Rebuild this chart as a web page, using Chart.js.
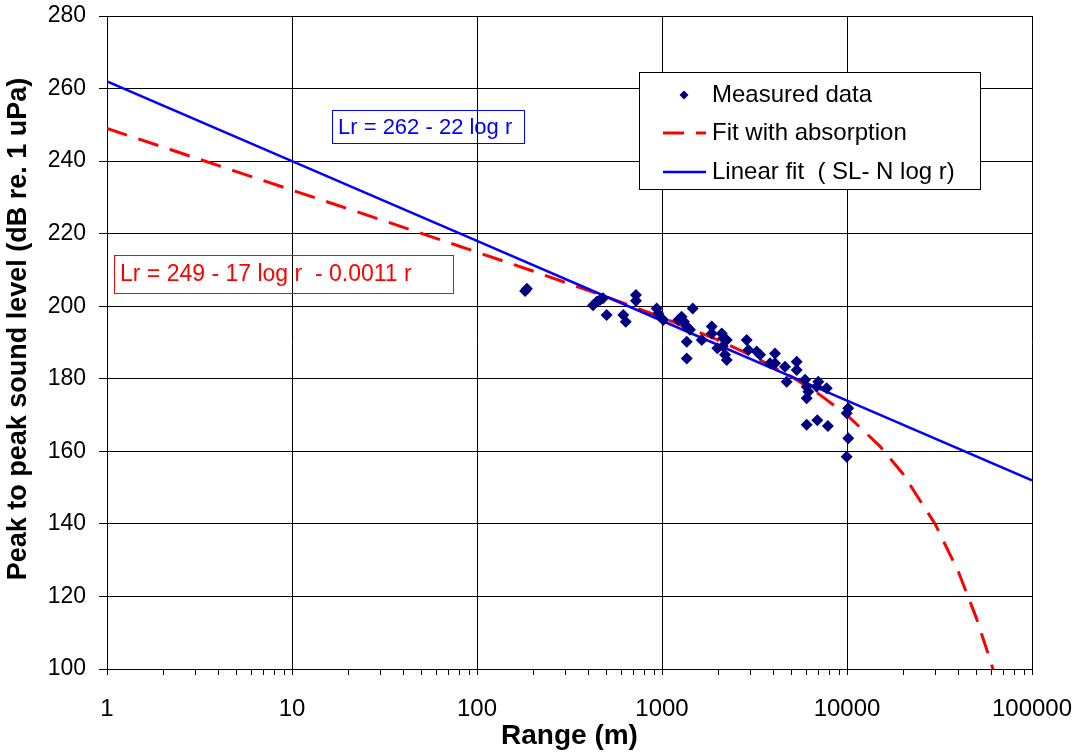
<!DOCTYPE html>
<html>
<head>
<meta charset="utf-8">
<script src="https://cdn.jsdelivr.net/npm/chart.js@4/dist/chart.umd.min.js"></script>
<style>
  html, body { margin: 0; padding: 0; background: #fff; }
  #wrap { width: 1076px; height: 753px; position: relative; }
</style>
</head>
<body>
<div id="wrap"><canvas id="c" width="1076" height="753"></canvas></div>
<script>
// Measured peak-to-peak levels versus range
const measuredRange = [182, 186, 424, 445, 462, 480, 502, 618, 637, 723, 723, 936, 955, 1016,
  1225, 1277, 1315, 1361, 1417, 1361, 1361, 1466, 1640, 1857, 1857, 1991, 2103, 2144, 2239,
  2191, 2239, 2130, 2870, 2930, 3250, 3388, 4083, 3837, 4083, 4624, 5348, 5348, 4722, 5932,
  6056, 6180, 6056, 6998, 6857, 7768, 6056, 6913, 7880, 10160, 9960, 10160, 9960];
const measuredLevel = [204.2, 204.8, 200.3, 201.3, 201.7, 202.2, 197.6, 197.6, 195.7, 203.1, 201.5, 199.4, 198.0, 196.2,
  196.2, 197.1, 195.7, 194.4, 193.5, 190.2, 185.6, 199.4, 190.7, 194.4, 192.5, 188.4, 192.5, 191.2, 190.7,
  186.6, 185.2, 189.0, 190.7, 187.9, 187.5, 186.6, 187.0, 184.3, 184.3, 183.3, 184.7, 182.4, 179.2, 179.7,
  177.8, 176.4, 174.6, 179.2, 177.8, 177.4, 167.3, 168.6, 167.0, 171.9, 170.5, 163.6, 158.5];

// Fit with absorption: Lr = 249 - 17 log r - 0.0011 r
const absorptionRange = [1, 2, 5, 10, 20, 50, 100, 200, 500, 1000, 2000, 3000, 5000, 7000,
  10000, 15000, 20000, 30000, 40000, 50000, 60000, 65000];
const absorptionLevel = [249.0, 243.9, 237.1, 232.0, 226.9, 220.1, 214.9, 209.7, 202.6, 196.9, 190.7, 186.6, 180.6, 175.9,
  170.0, 161.5, 153.9, 139.9, 126.8, 114.1, 101.8, 95.7];

// Linear fit: Lr = 262 - 22 log r
const linearRange = [1, 10, 100, 1000, 10000, 100000];
const linearLevel = [262, 240, 218, 196, 174, 152];

// Axis ticks
const xTickValues = [1, 10, 100, 1000, 10000, 100000];
const xTickLabels = ['1', '10', '100', '1000', '10000', '100000'];
const yTickValues = [100, 120, 140, 160, 180, 200, 220, 240, 260, 280];

const seriesNames = ['Measured data', 'Fit with absorption', 'Linear fit  ( SL- N log r)'];
const fitLabels = ['Lr = 262 - 22 log r', 'Lr = 249 - 17 log r  - 0.0011 r'];
const yTitle = 'Peak to peak sound level (dB re. 1 uPa)';

const FONT = '"Liberation Sans", Arial, sans-serif';
const NAVY = '#000080';
const RED = '#ff0000';
const BLUE = '#0000ff';
const DASH = [21, 12];

const pairs = (xs, ys) => xs.map((x, i) => ({ x, y: ys[i] }));

// Minor tick marks under the log axis (2..9 in each decade)
const minorTicks = {
  id: 'minorTicks',
  afterDraw(chart) {
    const xs = chart.scales.x, ca = chart.chartArea, ctx = chart.ctx;
    ctx.save();
    ctx.strokeStyle = '#000';
    ctx.lineWidth = 1;
    ctx.beginPath();
    for (let d = 1; d < 100000; d *= 10) {
      for (let k = 2; k <= 9; k++) {
        const px = Math.round(xs.getPixelForValue(k * d)) + 0.5;
        ctx.moveTo(px, ca.bottom);
        ctx.lineTo(px, ca.bottom + 6);
      }
    }
    ctx.stroke();
    ctx.restore();
  }
};

// Vertical axis title, equation boxes and legend box
const overlays = {
  id: 'overlays',
  afterDraw(chart) {
    const ctx = chart.ctx, ca = chart.chartArea;
    ctx.save();

    // y-axis title
    ctx.save();
    ctx.translate(19, 329);
    ctx.rotate(-Math.PI / 2);
    ctx.font = 'bold 27px ' + FONT;
    ctx.fillStyle = '#000';
    ctx.textAlign = 'center';
    ctx.textBaseline = 'middle';
    ctx.fillText(yTitle, 0, 0);
    ctx.restore();

    ctx.textBaseline = 'middle';
    ctx.textAlign = 'left';

    // linear-fit equation
    ctx.font = '22px ' + FONT;
    ctx.strokeStyle = BLUE; ctx.lineWidth = 1;
    ctx.strokeRect(ca.left + 225.5, ca.top + 94.5, 192, 33);
    ctx.fillStyle = BLUE;
    ctx.fillText(fitLabels[0], ca.left + 231, ca.top + 112);

    // absorption-fit equation
    ctx.font = '23px ' + FONT;
    ctx.strokeStyle = RED;
    ctx.strokeRect(ca.left + 7.5, ca.top + 239.5, 339, 38);
    ctx.fillStyle = RED;
    ctx.fillText(fitLabels[1], ca.left + 13, ca.top + 259);

    // legend
    const lx = 639.5, ly = 72.5, lw = 341, lh = 117;
    ctx.fillStyle = '#fff';
    ctx.fillRect(lx, ly, lw, lh);
    ctx.strokeStyle = '#000'; ctx.lineWidth = 1;
    ctx.strokeRect(lx, ly, lw, lh);

    ctx.font = '24px ' + FONT;
    const textX = 712;
    const rows = [95, 133, 172];
    ctx.fillStyle = '#000';
    seriesNames.forEach((name, i) => ctx.fillText(name, textX, rows[i]));

    // marker sample
    ctx.fillStyle = NAVY;
    ctx.beginPath();
    ctx.moveTo(684, rows[0] - 4.5); ctx.lineTo(688.5, rows[0]);
    ctx.lineTo(684, rows[0] + 4.5); ctx.lineTo(679.5, rows[0]);
    ctx.closePath(); ctx.fill();

    // dashed sample
    ctx.strokeStyle = RED; ctx.lineWidth = 3; ctx.lineCap = 'butt';
    ctx.setLineDash(DASH);
    ctx.beginPath(); ctx.moveTo(663, rows[1]); ctx.lineTo(706, rows[1]); ctx.stroke();
    ctx.setLineDash([]);

    // solid sample
    ctx.strokeStyle = BLUE; ctx.lineWidth = 2.5;
    ctx.beginPath(); ctx.moveTo(663, rows[2]); ctx.lineTo(706, rows[2]); ctx.stroke();
    ctx.restore();
  }
};

new Chart(document.getElementById('c'), {
  data: {
    datasets: [
      {
        type: 'scatter',
        label: seriesNames[0],
        data: pairs(measuredRange, measuredLevel),
        pointStyle: 'rectRot',
        pointRadius: 6,
        backgroundColor: NAVY,
        borderColor: NAVY,
        borderWidth: 0,
        order: 0
      },
      {
        type: 'line',
        label: seriesNames[1],
        data: pairs(absorptionRange, absorptionLevel),
        borderColor: RED,
        borderWidth: 3,
        borderDash: DASH,
        pointRadius: 0,
        tension: 0,
        fill: false,
        order: 2
      },
      {
        type: 'line',
        label: seriesNames[2],
        data: pairs(linearRange, linearLevel),
        borderColor: BLUE,
        borderWidth: 2.5,
        pointRadius: 0,
        tension: 0,
        fill: false,
        order: 1
      }
    ]
  },
  options: {
    responsive: false,
    animation: false,
    events: [],
    layout: { padding: { top: 16, right: 44, left: 0, bottom: 0 } },
    plugins: { legend: { display: false }, tooltip: { enabled: false } },
    scales: {
      x: {
        type: 'logarithmic',
        min: 1, max: 100000,
        afterBuildTicks(scale) { scale.ticks = xTickValues.map(v => ({ value: v, major: true })); },
        afterFit(scale) { scale.height = 84; scale.paddingLeft = 0; scale.paddingRight = 0; },
        ticks: {
          autoSkip: false, maxRotation: 0,
          color: '#000',
          font: { family: FONT, size: 24 },
          padding: 20,
          callback: (v) => xTickLabels[xTickValues.indexOf(v)]
        },
        grid: { color: '#000', lineWidth: 1, tickLength: 6, tickColor: '#000' },
        border: { color: '#000', width: 1 },
        title: {
          display: true, text: 'Range (m)', color: '#000',
          font: { family: FONT, size: 28, weight: 'bold' },
          padding: { top: 0, bottom: 0 }
        }
      },
      y: {
        min: 100, max: 280,
        afterBuildTicks(scale) { scale.ticks = yTickValues.map(v => ({ value: v })); },
        afterFit(scale) { scale.width = 107; scale.paddingTop = 0; scale.paddingBottom = 0; },
        ticks: {
          color: '#000',
          font: { family: FONT, size: 23 },
          padding: 13
        },
        grid: { color: '#000', lineWidth: 1, tickLength: 8, tickColor: '#000' },
        border: { color: '#000', width: 1 },
        title: { display: false }
      }
    }
  },
  plugins: [minorTicks, overlays]
});
</script>
</body>
</html>
